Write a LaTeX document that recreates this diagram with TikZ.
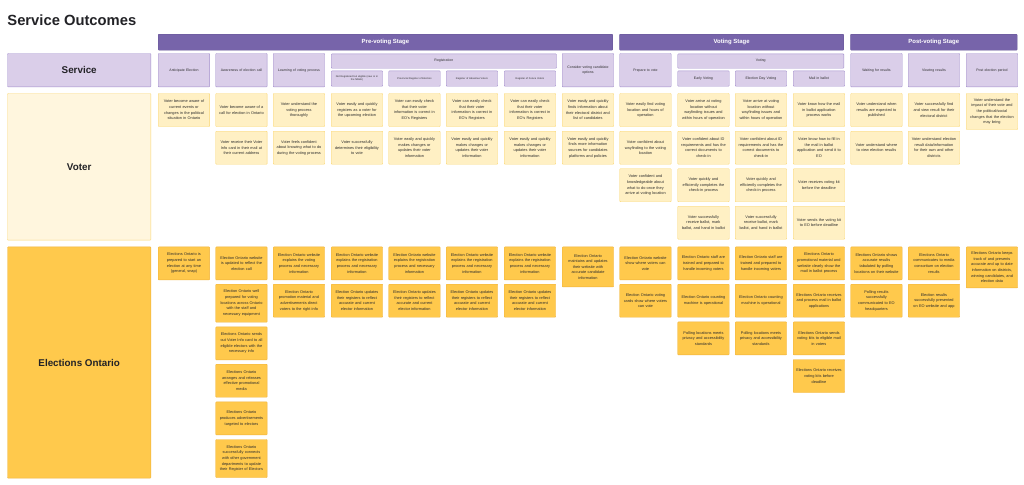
\documentclass[tikz,border=0pt]{standalone}
\usepackage{fontspec}
\setmainfont{Liberation Sans}
\usepackage{tikz}

\definecolor{titlecol}{RGB}{34,34,38}
\definecolor{textcol}{RGB}{45,45,45}
\definecolor{stagefill}{RGB}{119,100,170}
\definecolor{stageline}{RGB}{100,84,150}
\definecolor{headfill}{RGB}{218,206,233}
\definecolor{headline}{RGB}{162,142,204}
\definecolor{voterfill}{RGB}{255,240,196}
\definecolor{voterline}{RGB}{250,214,112}
\definecolor{voterlbl}{RGB}{255,246,222}
\definecolor{eofill}{RGB}{255,201,76}
\definecolor{eoline}{RGB}{240,178,58}

\begin{document}
\begin{tikzpicture}[x=0.05cm,y=-0.05cm,
  stagebar/.style={draw=stageline,fill=stagefill,rounded corners=1pt,text=white,
    font=\bfseries\fontsize{8.5}{10}\selectfont,anchor=north west,minimum height=0.8cm,inner sep=0pt},
  headbox/.style={draw=headline,fill=headfill,rounded corners=1pt,line width=0.6pt,text=textcol,
    font=\fontsize{5}{6.2}\selectfont,align=center,text width=2.4cm,anchor=north west,
    minimum width=2.575cm,minimum height=1.67cm,inner sep=0pt},
  subbox/.style={headbox,minimum height=0.765cm},
  spanbox/.style={draw=headline,fill=headfill,rounded corners=1pt,line width=0.6pt,text=textcol,
    font=\fontsize{5}{6.2}\selectfont,anchor=north west,minimum height=0.715cm,inner sep=0pt},
  vbox/.style={draw=voterline,fill=voterfill,rounded corners=1pt,line width=0.6pt,text=textcol,
    font=\fontsize{5.5}{8}\selectfont,align=center,text width=2.4cm,anchor=north west,
    minimum width=2.575cm,minimum height=1.65cm,inner sep=0pt},
  ebox/.style={vbox,draw=eoline,fill=eofill},
  lblbox/.style={rounded corners=1pt,line width=0.6pt,text=titlecol,anchor=north west,
    font=\bfseries\fontsize{14}{16}\selectfont,minimum width=7.17cm,inner sep=0pt}]

\useasboundingbox (0,0) rectangle (1024,485);

\draw (7.3,25) node (title) [anchor=base west,inner sep=0pt,text=titlecol,
  font=\bfseries\fontsize{21}{25}\selectfont] {Service Outcomes};

% stages
\draw (158,34)   node (pre)  [stagebar,minimum width=22.735cm] {Pre-voting Stage};
\draw (619.3,34) node (vst)  [stagebar,minimum width=11.22cm] {Voting Stage};
\draw (850.3,34) node (post) [stagebar,minimum width=8.335cm] {Post-voting Stage};

% service row
\draw (7.3,53.3) node (service) [lblbox,draw=headline,fill=headfill,minimum height=1.67cm] {Service};
\draw (158,53.3)   node (h1)  [headbox] {Anticipate Election};
\draw (215.5,53.3) node (h2)  [headbox] {Awareness of election call};
\draw (273,53.3)   node (h3)  [headbox] {Learning of voting process};
\draw (331,53.7)   node (reg) [spanbox,minimum width=11.265cm] {Registration};
\draw (331,70.7)   node (h4)  [subbox,font=\fontsize{3.6}{4.6}\selectfont] {Not Registered but eligible (new or in\\the NRoE)};
\draw (388.5,70.7) node (h5)  [subbox,font=\fontsize{3.6}{4.6}\selectfont] {Provincial Register of Electors};
\draw (446,70.7)   node (h6)  [subbox,font=\fontsize{3.6}{4.6}\selectfont] {Register of Absentee Voters};
\draw (504,70.7)   node (h7)  [subbox,font=\fontsize{3.6}{4.6}\selectfont] {Register of Future Voters};
\draw (562,53.3)   node (h8)  [headbox] {Consider voting candidate\\options};
\draw (619.5,53.3) node (h9)  [headbox] {Prepare to vote};
\draw (677.5,53.7) node (vot) [spanbox,minimum width=8.31cm] {Voting};
\draw (677.5,70.7) node (h10) [subbox] {Early Voting};
\draw (735,70.7)   node (h11) [subbox] {Election Day Voting};
\draw (793,70.7)   node (h12) [subbox] {Mail in ballot};
\draw (850.5,53.3) node (h13) [headbox] {Waiting for results};
\draw (908,53.3)   node (h14) [headbox] {Viewing results};
\draw (966,53.3)   node (h15) [headbox] {Post election period};

% voter
\draw (7.3,93.3) node (voter) [lblbox,draw=voterline,fill=voterlbl,minimum height=7.335cm] {Voter};
\draw (158,93.3)   node (v1a)  [vbox] {Voter become aware of\\current events or\\changes in the political\\situation in Ontario};
\draw (215.5,93.3) node (v2a)  [vbox] {Voter become aware of a\\call for election in Ontario};
\draw (215.5,131)  node (v2b)  [vbox] {Voter receive their Voter\\Info card in their mail at\\their current address};
\draw (273,93.3)   node (v3a)  [vbox] {Voter understand the\\voting process\\thoroughly};
\draw (273,131)    node (v3b)  [vbox] {Voter feels confident\\about knowing what to do\\during the voting process};
\draw (331,93.3)   node (v4a)  [vbox] {Voter easily and quickly\\registers as a voter for\\the upcoming election};
\draw (331,131)    node (v4b)  [vbox] {Voter successfully\\determines their eligibility\\to vote};
\draw (388.5,93.3) node (v5a)  [vbox] {Voter can easily check\\that their voter\\information is correct in\\EO's Registers};
\draw (388.5,131)  node (v5b)  [vbox] {Voter easily and quickly\\makes changes or\\updates their voter\\information};
\draw (446,93.3)   node (v6a)  [vbox] {Voter can easily check\\that their voter\\information is correct in\\EO's Registers};
\draw (446,131)    node (v6b)  [vbox] {Voter easily and quickly\\makes changes or\\updates their voter\\information};
\draw (504,93.3)   node (v7a)  [vbox] {Voter can easily check\\that their voter\\information is correct in\\EO's Registers};
\draw (504,131)    node (v7b)  [vbox] {Voter easily and quickly\\makes changes or\\updates their voter\\information};
\draw (562,93.3)   node (v8a)  [vbox] {Voter easily and quickly\\finds information about\\their electoral district and\\list of candidates};
\draw (562,131)    node (v8b)  [vbox] {Voter easily and quickly\\finds more information\\sources for candidates\\platforms and policies};
\draw (619.5,93.3) node (v9a)  [vbox] {Voter easily find voting\\location and hours of\\operation};
\draw (619.5,131)  node (v9b)  [vbox] {Voter confident about\\wayfinding to the voting\\location};
\draw (619.5,168.5) node (v9c) [vbox] {Voter confident and\\knowledgeable about\\what to do once they\\arrive at voting location};
\draw (677.5,93.3) node (v10a) [vbox] {Voter arrive at voting\\location without\\wayfinding issues and\\within hours of operation};
\draw (677.5,131)  node (v10b) [vbox] {Voter confident about ID\\requirements and has the\\correct documents to\\check-in};
\draw (677.5,168.5) node (v10c) [vbox] {Voter quickly and\\efficiently completes the\\check-in process};
\draw (677.5,206)  node (v10d) [vbox] {Voter successfully\\receive ballot, mark\\ballot, and hand in ballot};
\draw (735,93.3)   node (v11a) [vbox] {Voter arrive at voting\\location without\\wayfinding issues and\\within hours of operation};
\draw (735,131)    node (v11b) [vbox] {Voter confident about ID\\requirements and has the\\correct documents to\\check-in};
\draw (735,168.5)  node (v11c) [vbox] {Voter quickly and\\efficiently completes the\\check-in process};
\draw (735,206)    node (v11d) [vbox] {Voter successfully\\receive ballot, mark\\ballot, and hand in ballot};
\draw (793,93.3)   node (v12a) [vbox] {Voter know how the mail\\in ballot application\\process works};
\draw (793,131)    node (v12b) [vbox] {Voter know how to fill in\\the mail in ballot\\application and send it to\\EO};
\draw (793,168.5)  node (v12c) [vbox] {Voter receives voting kit\\before the deadline};
\draw (793,206)    node (v12d) [vbox] {Voter sends the voting kit\\to EO before deadline};
\draw (850.5,93.3) node (v13a) [vbox] {Voter understand when\\results are expected to\\published};
\draw (850.5,131)  node (v13b) [vbox] {Voter understand where\\to view election results};
\draw (908,93.3)   node (v14a) [vbox] {Voter successfully find\\and view result for their\\electoral district};
\draw (908,131)    node (v14b) [vbox] {Voter understand election\\result data/information\\for their own and other\\districts};
\draw (966,93.3)   node (v15a) [vbox,minimum height=1.8cm] {Voter understand the\\impact of their vote and\\the political/social\\changes that the election\\may bring};

% elections ontario
\draw (7.3,246.7) node (eo) [lblbox,draw=eoline,fill=eofill,minimum height=11.565cm] {Elections Ontario};
\draw (158,246.7)   node (e1a)  [ebox] {Elections Ontario is\\prepared to start an\\election at any time\\(general, snap)};
\draw (215.5,246.7) node (e2a)  [ebox] {Election Ontario website\\is updated to reflect the\\election call};
\draw (215.5,284)   node (e2b)  [ebox,minimum height=1.9cm] {Election Ontario well\\prepared for voting\\locations across Ontario\\with the staff and\\necessary equipment};
\draw (215.5,326.7) node (e2c)  [ebox] {Elections Ontario sends\\out Voter Info card to all\\eligible electors with the\\necessary info};
\draw (215.5,364)   node (e2d)  [ebox] {Elections Ontario\\arranges and releases\\effective promotional\\media};
\draw (215.5,401.7) node (e2e)  [ebox] {Elections Ontario\\produces advertisements\\targeted to electors};
\draw (215.5,439.3) node (e2f)  [ebox,minimum height=1.9cm] {Elections Ontario\\successfully connects\\with other government\\departments to update\\their Register of Electors};
\draw (273,246.7)   node (e3a)  [ebox] {Election Ontario website\\explains the voting\\process and necessary\\information};
\draw (273,284)     node (e3b)  [ebox] {Election Ontario\\promotion material and\\advertisements direct\\voters to the right info};
\draw (331,246.7)   node (e4a)  [ebox] {Election Ontario website\\explains the registration\\process and necessary\\information};
\draw (331,284)     node (e4b)  [ebox] {Election Ontario updates\\their registers to reflect\\accurate and current\\elector information};
\draw (388.5,246.7) node (e5a)  [ebox] {Election Ontario website\\explains the registration\\process and necessary\\information};
\draw (388.5,284)   node (e5b)  [ebox] {Election Ontario updates\\their registers to reflect\\accurate and current\\elector information};
\draw (446,246.7)   node (e6a)  [ebox] {Election Ontario website\\explains the registration\\process and necessary\\information};
\draw (446,284)     node (e6b)  [ebox] {Election Ontario updates\\their registers to reflect\\accurate and current\\elector information};
\draw (504,246.7)   node (e7a)  [ebox] {Election Ontario website\\explains the registration\\process and necessary\\information};
\draw (504,284)     node (e7b)  [ebox] {Election Ontario updates\\their registers to reflect\\accurate and current\\elector information};
\draw (562,246.7)   node (e8a)  [ebox,minimum height=2cm] {Election Ontario\\maintains and updates\\their website with\\accurate candidate\\information};
\draw (619.5,246.7) node (e9a)  [ebox] {Election Ontario website\\show where voters can\\vote};
\draw (619.5,284)   node (e9b)  [ebox] {Election Ontario voting\\cards show where voters\\can vote};
\draw (677.5,246.7) node (e10a) [ebox] {Election Ontario staff are\\trained and prepared to\\handle incoming voters};
\draw (677.5,284)   node (e10b) [ebox] {Election Ontario counting\\machine is operational};
\draw (677.5,321.7) node (e10c) [ebox] {Polling locations meets\\privacy and accessibility\\standards};
\draw (735,246.7)   node (e11a) [ebox] {Election Ontario staff are\\trained and prepared to\\handle incoming voters};
\draw (735,284)     node (e11b) [ebox] {Election Ontario counting\\machine is operational};
\draw (735,321.7)   node (e11c) [ebox] {Polling locations meets\\privacy and accessibility\\standards};
\draw (793,246.7)   node (e12a) [ebox] {Elections Ontario\\promotional material and\\website clearly show the\\mail in ballot process};
\draw (793,284)     node (e12b) [ebox] {Elections Ontario receives\\and process mail in ballot\\applications};
\draw (793,321.7)   node (e12c) [ebox] {Elections Ontario sends\\voting kits to eligible mail\\in voters};
\draw (793,359.3)   node (e12d) [ebox] {Elections Ontario receives\\voting kits before\\deadline};
\draw (850.5,246.7) node (e13a) [ebox] {Elections Ontario shows\\accurate results\\tabulated by polling\\locations on their website};
\draw (850.5,284)   node (e13b) [ebox] {Polling results\\successfully\\communicated to EO\\headquarters};
\draw (908,246.7)   node (e14a) [ebox] {Elections Ontario\\communicates to media\\consortium on election\\results};
\draw (908,284)     node (e14b) [ebox] {Election results\\successfully presented\\on EO website and app};
\draw (966,246.7)   node (e15a) [ebox,minimum height=2.05cm] {Elections Ontario keeps\\track of and presents\\accurate and up to date\\information on districts,\\winning candidates, and\\election data};

\end{tikzpicture}
\end{document}
